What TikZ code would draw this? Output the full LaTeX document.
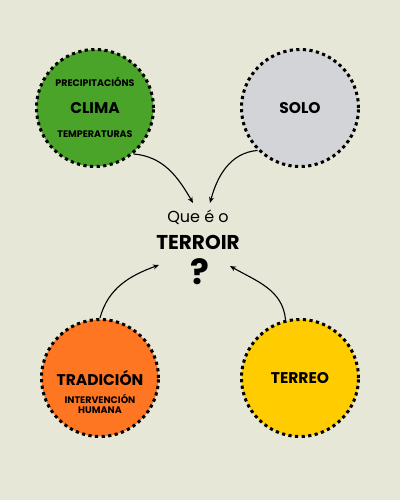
\documentclass[tikz,border=0pt]{standalone}
\usepackage{fontspec}
\setmainfont{Poppins}
\usepackage{tikz}
\usetikzlibrary{calc,positioning,arrows.meta}

\definecolor{fondo}{RGB}{230,231,214}
\definecolor{verde}{RGB}{74,164,41}
\definecolor{gris}{RGB}{211,212,216}
\definecolor{laranxa}{RGB}{255,118,34}
\definecolor{amarelo}{RGB}{255,204,0}

\tikzset{
  burbulla/.style={circle,minimum size=117pt,inner sep=0pt,draw=black,
                   line width=3pt,dash pattern=on 3.2pt off 3.4pt},
  grande/.style={font=\fontsize{15.5}{18}\selectfont\bfseries},
  miuda/.style={font=\fontsize{9.5}{11}\selectfont\bfseries,align=center},
  frecha/.style={-{Stealth[length=6pt,width=5pt]},line width=1.1pt}
}

\begin{document}
\begin{tikzpicture}[x=1pt,y=1pt]
    \fill[fondo] (0,0) rectangle (400,500);

    % as catro burbullas
    \node[burbulla,fill=verde]   (clima) at (95,392)  {};
    \node[burbulla,fill=gris]    (solo)  at (300,392) {};
    \node[burbulla,fill=laranxa] (trad)  at (100,122) {};
    \node[burbulla,fill=amarelo] (terr)  at (300,122) {};

    \node[grande] (climaT) at (clima) {CLIMA};
    \node[miuda]  (prec)   at ($(clima)+(0,26)$)  {PRECIPITACIÓNS};
    \node[miuda]  (temp)   at ($(clima)+(0,-26)$) {TEMPERATURAS};

    \node[grande] (soloT) at (solo) {SOLO};

    \node[grande] (tradT) at ($(trad)+(0,0)$) {TRADICIÓN};
    \node[miuda,below=2pt of tradT] (interv) {INTERVENCIÓN\\[-1pt]HUMANA};

    \node[grande] (terrT) at (terr) {TERREO};

    % centro
    \node[font=\fontsize{16}{18}\selectfont] (que) at (198,283) {Que é o};
    \node[font=\fontsize{20}{22}\selectfont\bfseries] (terroir) at (198,258) {TERROIR};
    \node[font=\fontsize{35}{36}\selectfont\bfseries] (preg) at (200,228) {?};

    \coordinate (inA) at (193,297);
    \coordinate (inB) at (210,297);
    \coordinate (inC) at (159,235);
    \coordinate (inD) at (230,234);

    \draw[frecha] (clima.-50) to[out=-5,in=120] (inA);
    \draw[frecha] (solo.-135) to[out=185,in=75] (inB);
    \draw[frecha] (trad.90) to[out=75,in=200] (inC);
    \draw[frecha] (terr.104) to[out=95,in=-30] (inD);
\end{tikzpicture}
\end{document}
